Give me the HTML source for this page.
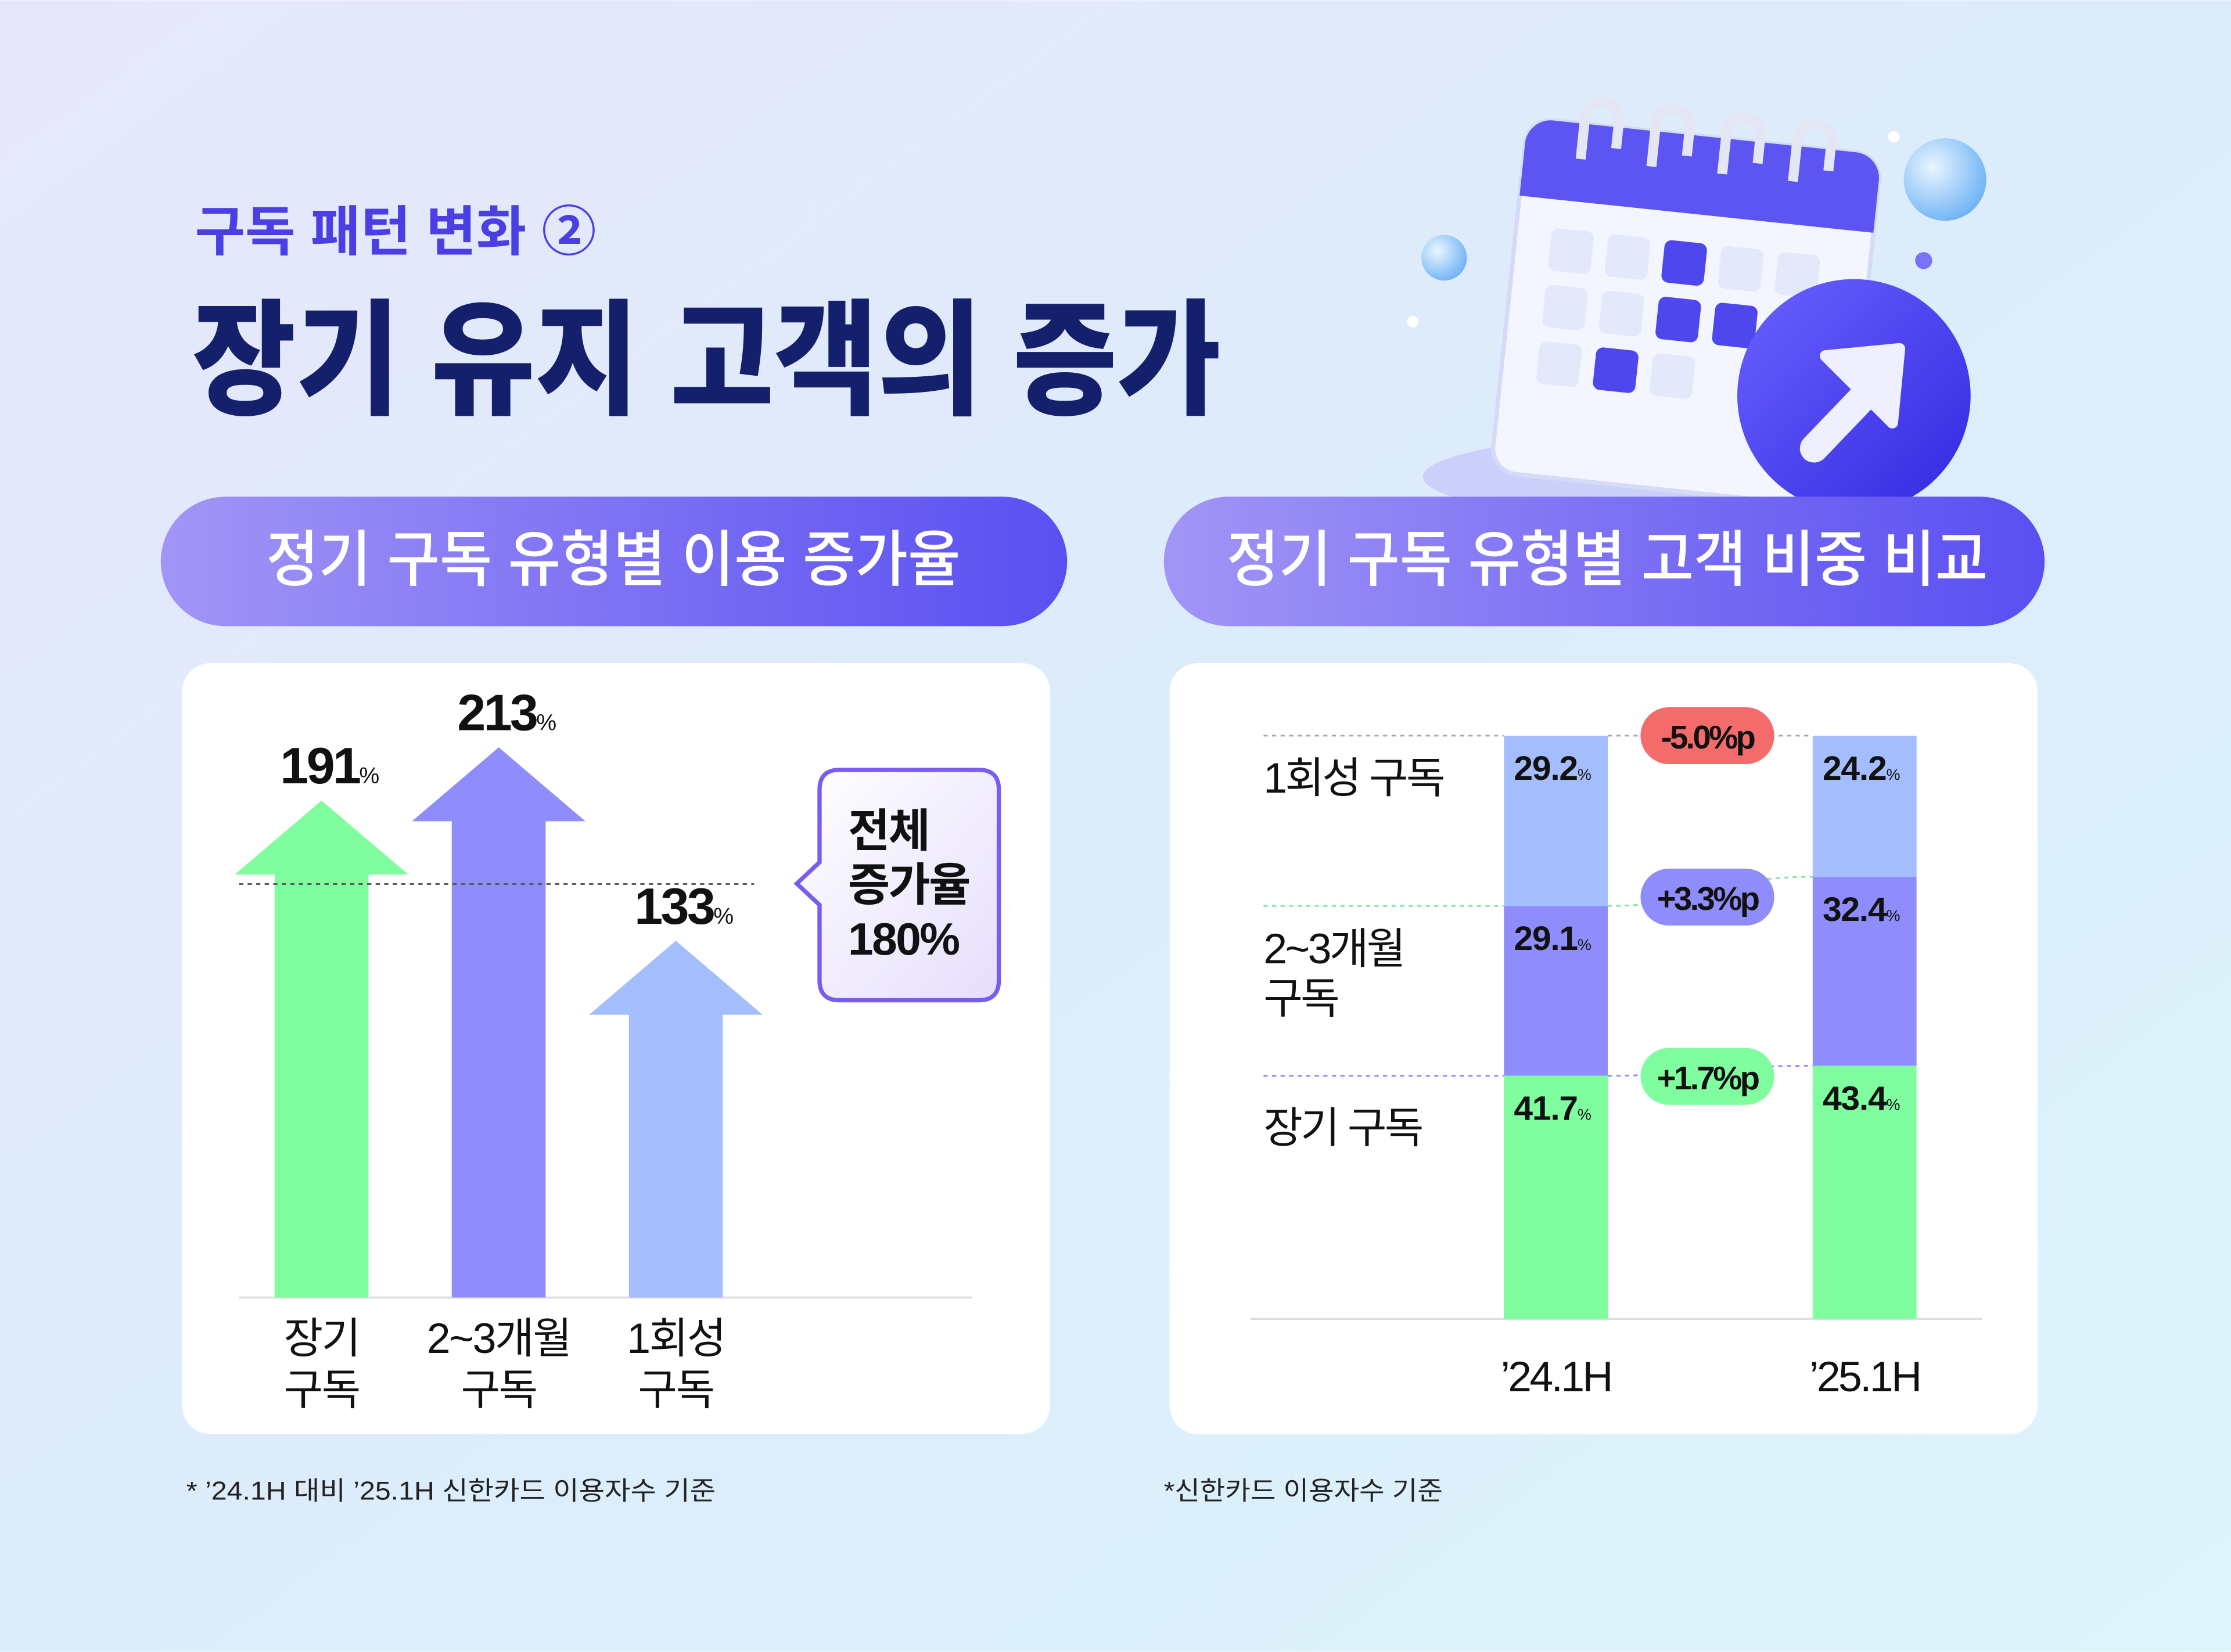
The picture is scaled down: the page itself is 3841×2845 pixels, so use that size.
<!DOCTYPE html>
<html><head><meta charset="utf-8">
<style>
html,body{margin:0;padding:0;width:3841px;height:2845px;overflow:hidden}
svg{display:block}
text{font-family:"Liberation Sans","Noto Sans CJK KR",sans-serif}
</style></head>
<body>
<svg id="root" width="3841" height="2845" viewBox="0 0 1568 1161" xmlns="http://www.w3.org/2000/svg">
<defs>
<linearGradient id="bg" x1="0" y1="0" x2="1" y2="1">
<stop offset="0" stop-color="#e7e7fb"/><stop offset="0.5" stop-color="#dcecfb"/><stop offset="1" stop-color="#ddf4fb"/></linearGradient>
<linearGradient id="pill" x1="0" y1="0" x2="1" y2="0">
<stop offset="0" stop-color="#a195f6"/><stop offset="1" stop-color="#5a4ff1"/></linearGradient>
<linearGradient id="callout" x1="0" y1="0" x2="1" y2="1">
<stop offset="0" stop-color="#ffffff"/><stop offset="1" stop-color="#e6defc"/></linearGradient>
<radialGradient id="bubble" cx="0.35" cy="0.35" r="0.7">
<stop offset="0" stop-color="#e8f6ff"/><stop offset="1" stop-color="#6fb3f5"/></radialGradient>
<linearGradient id="circ" x1="0" y1="0" x2="1" y2="1">
<stop offset="0" stop-color="#6a62ff"/><stop offset="1" stop-color="#3228e0"/></linearGradient>
</defs>
<rect width="1568" height="1161" fill="url(#bg)"/>

<text x="137" y="176" font-size="38" font-weight="700" fill="#4b3fe3" textLength="282" lengthAdjust="spacingAndGlyphs">구독 패턴 변화 ②</text>
<text x="135" y="284" font-size="88" font-weight="900" fill="#14206b" textLength="723" lengthAdjust="spacingAndGlyphs">장기 유지 고객의 증가</text>

<g>
<ellipse cx="1180" cy="335" rx="180" ry="30" fill="#b9b4fb" opacity="0.5"/>
<g transform="rotate(6 1185 220)">
<rect x="1060" y="95" width="250" height="250" rx="18" fill="#f4f6ff" stroke="#d5dbf7" stroke-width="3"/>
<rect x="1060" y="95" width="250" height="55" rx="18" fill="#5c55f2"/>
<rect x="1060" y="130" width="250" height="20" fill="#5c55f2"/>
<g fill="#e3e8fb">
<rect x="1085" y="170" width="30" height="30" rx="5"/><rect x="1125" y="170" width="30" height="30" rx="5"/><rect x="1205" y="170" width="30" height="30" rx="5"/><rect x="1245" y="170" width="30" height="30" rx="5"/>
<rect x="1085" y="210" width="30" height="30" rx="5"/><rect x="1125" y="210" width="30" height="30" rx="5"/>
<rect x="1085" y="250" width="30" height="30" rx="5"/><rect x="1165" y="250" width="30" height="30" rx="5"/>
</g>
<g fill="#4e47ee">
<rect x="1165" y="170" width="30" height="30" rx="5"/><rect x="1165" y="210" width="30" height="30" rx="5"/><rect x="1205" y="210" width="30" height="30" rx="5"/><rect x="1125" y="250" width="30" height="30" rx="5"/>
</g>
<g fill="none" stroke="#e4e6f4" stroke-width="7">
<path d="M1100 120 v-30 a12 12 0 0 1 24 0 v20"/><path d="M1150 120 v-30 a12 12 0 0 1 24 0 v20"/><path d="M1200 120 v-30 a12 12 0 0 1 24 0 v20"/><path d="M1250 120 v-30 a12 12 0 0 1 24 0 v20"/>
</g>
</g>
<circle cx="1303" cy="278" r="82" fill="url(#circ)"/>
<path d="M1275 315 L1320 268" stroke="#eef0ff" stroke-width="20" stroke-linecap="round"/>
<path d="M1283 250 L1335 245 L1330 297 Z" fill="#eef0ff" stroke="#eef0ff" stroke-width="8" stroke-linejoin="round"/>
<circle cx="1367" cy="126" r="29" fill="url(#bubble)"/>
<circle cx="1015" cy="181" r="16" fill="url(#bubble)"/>
<circle cx="1352" cy="183" r="6" fill="#7a72f5"/>
<circle cx="993" cy="226" r="4" fill="#ffffff"/>
<circle cx="1331" cy="96" r="4" fill="#ffffff"/>
</g>

<g>
<rect x="113" y="349" width="637" height="91" rx="45.5" fill="url(#pill)"/>
<text x="187" y="408" font-size="43" font-weight="500" fill="#fff" textLength="488" lengthAdjust="spacingAndGlyphs">정기 구독 유형별 이용 증가율</text>
</g>
<g>
<rect x="818" y="349" width="619" height="91" rx="45.5" fill="url(#pill)"/>
<text x="862" y="408" font-size="43" font-weight="500" fill="#fff" textLength="535" lengthAdjust="spacingAndGlyphs">정기 구독 유형별 고객 비중 비교</text>
</g>

<rect x="128" y="466" width="610" height="542" rx="20" fill="#fff"/>
<rect x="822" y="466" width="610" height="542" rx="20" fill="#fff"/>

<g id="left-chart"></g>
<g id="right-chart"></g>

<text x="131" y="1054" font-size="18" fill="#222" textLength="372" lengthAdjust="spacingAndGlyphs">* ’24.1H 대비 ’25.1H  신한카드 이용자수 기준</text>
<text x="818" y="1054" font-size="18" fill="#222" textLength="196" lengthAdjust="spacingAndGlyphs">*신한카드 이용자수 기준</text>
</svg>
<script>
const NS="http://www.w3.org/2000/svg";
function mk(tag,attrs,parent,txt){const e=document.createElementNS(NS,tag);for(const k in attrs)e.setAttribute(k,attrs[k]);if(txt!==undefined)e.textContent=txt;parent.appendChild(e);return e;}

const growthCategories=[["장기","구독"],["2~3개월","구독"],["1회성","구독"]];
const growthValues=[191,213,133];
const growthColors=["#80fd9f","#8f8cfb","#a3bdfd"];
const totalGrowth=180;

const periods=["’24.1H","’25.1H"];
const longTerm=[41.7,43.4];
const midTerm=[29.1,32.4];
const oneTime=[29.2,24.2];
const rowLabels=[["1회성 구독"],["2~3개월","구독"],["장기 구독"]];
const diffLabels=["-5.0%p","+3.3%p","+1.7%p"];

(function(){
const g=document.getElementById('left-chart');
const base=912;
const yScale=v=>583-1.70*(v-179);
const xCenter=i=>226+i*124.5;
mk('line',{x1:168,y1:base,x2:683,y2:base,stroke:'#ddd','stroke-width':1.5},g);
growthValues.forEach((v,i)=>{
 const cx=xCenter(i),tip=yScale(v),hh=52;
 const a=mk('path',{d:`M${cx-33} ${base} V${tip+hh} H${cx-61} L${cx} ${tip} L${cx+61} ${tip+hh} H${cx+33} V${base} Z`,fill:growthColors[i]},g);
 
 
 const t=mk('text',{x:cx+5,y:tip-12,'font-size':36,'font-weight':700,fill:'#111','text-anchor':'middle','letter-spacing':'-1.5'},g);
 
 
 mk('tspan',{},t,String(v));mk('tspan',{'font-size':16,'font-weight':400},t,'%');
 growthCategories[i].forEach((ln,j)=>{
  const c=mk('text',{x:cx,y:951+j*36,'font-size':30,fill:'#111','text-anchor':'middle','letter-spacing':'-1'},g,ln);
  
  
 });
});
const dy=yScale(totalGrowth)+40;
const dl=mk('line',{x1:168,y1:dy,x2:530,y2:dy,stroke:'#555','stroke-width':1.2,'stroke-dasharray':'3 3'},g);


const co=mk('path',{d:`M590 541 H688 Q702 541 702 555 V689 Q702 703 688 703 H590 Q576 703 576 689 V636 L560 621 L576 606 V555 Q576 541 590 541 Z`,fill:'url(#callout)',stroke:'#7a5cf0','stroke-width':3},g);


["전체","증가율",totalGrowth+"%"].forEach((s,j)=>mk('text',{x:596,y:595+j*38,'font-size':32,'font-weight':700,fill:'#111','letter-spacing':'-1'},g,s));
})();

(function(){
const g=document.getElementById('right-chart');
const base=927,top=517,H=base-top;
const h=v=>v/100*H;
const xLeft=i=>1057+i*217,bw=73;
mk('line',{x1:879,y1:base,x2:1393,y2:base,stroke:'#ddd','stroke-width':1.5},g);
const segs=[[longTerm,"#80fd9f","long-term-segment"],[midTerm,"#8f8cfb","mid-term-segment"],[oneTime,"#a3bdfd","one-time-segment"]];
const bounds=periods.map(()=>[]);
periods.forEach((p,i)=>{
 let y=base;
 segs.forEach(([arr,col,nm])=>{
  const hh=h(arr[i]);y-=hh;
  const r=mk('rect',{x:xLeft(i),y:y,width:bw,height:hh,fill:col},g);
  
  
  bounds[i].push(y);
  const t=mk('text',{x:xLeft(i)+7,y:y+31,'font-size':24,'font-weight':700,fill:'#111','letter-spacing':'-0.5'},g);
  
  
  mk('tspan',{},t,arr[i].toFixed(1));mk('tspan',{'font-size':11,'font-weight':400},t,'%');
 });
 const xl=mk('text',{x:xLeft(i)+bw/2,y:978,'font-size':30,fill:'#111','text-anchor':'middle','letter-spacing':'-1.5'},g,p);
 
 
});
const conn=[[2,'#aaa'],[1,'#7ee89a'],[0,'#8f8cfb']];
conn.forEach(([k,col])=>{
 const y0=bounds[0][k],y1=bounds[1][k];
 const l=mk('path',{d:`M888 ${y0} H1057 M1130 ${y0} C1200 ${y0} 1200 ${y1} 1274 ${y1}`,fill:'none',stroke:col,'stroke-width':1.2,'stroke-dasharray':'3 3'},g);
 
 
});
const badgeCols=['#f46b6b','#8f8cfb','#80fd9f'];
const badgeKeys=[2,1,0];
diffLabels.forEach((s,j)=>{
 const k=badgeKeys[j];
 const yc=(bounds[0][k]+bounds[1][k])/2+(j===0?0:4);
 const b=mk('rect',{x:1153,y:yc-20,width:94,height:40,rx:20,fill:badgeCols[j]},g);
 
 
 mk('text',{x:1200,y:yc+9,'font-size':23,'font-weight':700,fill:'#111','text-anchor':'middle','letter-spacing':'-1.5'},g,s);
});
const rowY=[557,677,803];
rowLabels.forEach((lines,j)=>lines.forEach((ln,m)=>{
 const t=mk('text',{x:888,y:rowY[j]+m*35,'font-size':30,fill:'#111','letter-spacing':'-1.5'},g,ln);
 
 
}));
})();
</script>
</body></html>
